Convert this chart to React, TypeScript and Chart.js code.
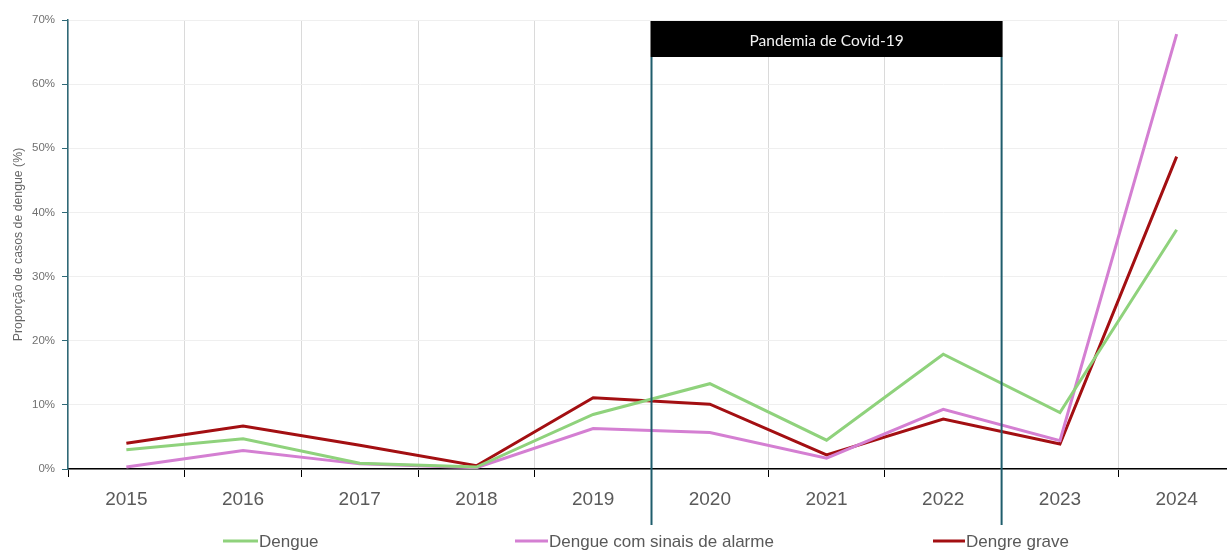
import React, { useEffect, useRef } from "react";
import { Chart, registerables } from "chart.js";

Chart.register(...registerables);

const years = ["2015", "2016", "2017", "2018", "2019", "2020", "2021", "2022", "2023", "2024"];
const dengue = [3.0, 4.7, 0.9, 0.3, 8.5, 13.3, 4.5, 17.9, 8.8, 37.3];
const alarme = [0.3, 2.9, 0.8, 0.2, 6.3, 5.7, 1.7, 9.3, 4.4, 67.8];
const grave = [4.0, 6.7, 3.7, 0.5, 11.1, 10.1, 2.2, 7.8, 3.9, 48.7];
const seriesLabels = ["Dengue", "Dengue com sinais de alarme", "Dengre grave"];
const seriesColors = ["#8fd27c", "#d47fd2", "#a30f12"];
const covidLabel = "Pandemia de Covid-19";
const covidStart = 4.5;
const covidEnd = 7.5;
const yTitle = "Proporção de casos de dengue (%)";

const legendLineStart = [223, 515, 933];
const legendLineEnd = [258, 548, 965];
const legendY = 541;

const overlayPlugin = {
  id: "overlay",
  afterDatasetsDraw(chart: any) {
    const { ctx, scales } = chart;
    const x = scales.x;
    const x1 = x.getPixelForValue(covidStart);
    const x2 = x.getPixelForValue(covidEnd);
    ctx.save();
    ctx.fillStyle = "#000";
    ctx.fillRect(x1 - 1, 21, x2 - x1 + 2, 36);
    ctx.fillStyle = "#f2f2f2";
    ctx.font = "15.5px Lato, 'Liberation Sans', sans-serif";
    ctx.textAlign = "center";
    ctx.textBaseline = "middle";
    ctx.fillText(covidLabel, (x1 + x2) / 2, 41);
    ctx.strokeStyle = "#1f5d6c";
    ctx.lineWidth = 2;
    [x1, x2].forEach((px) => {
      ctx.beginPath();
      ctx.moveTo(px, 57);
      ctx.lineTo(px, 525);
      ctx.stroke();
    });
    // legend
    ctx.font = "17px 'Liberation Sans', Arial, sans-serif";
    ctx.textAlign = "left";
    ctx.textBaseline = "middle";
    seriesLabels.forEach((lab, i) => {
      ctx.strokeStyle = seriesColors[i];
      ctx.lineWidth = 3;
      ctx.beginPath();
      ctx.moveTo(legendLineStart[i], legendY);
      ctx.lineTo(legendLineEnd[i], legendY);
      ctx.stroke();
      ctx.fillStyle = "#595959";
      ctx.fillText(lab, legendLineEnd[i] + 1, legendY + 1);
    });
    ctx.restore();
  },
};

export default function App() {
  const ref = useRef<HTMLCanvasElement>(null);
  useEffect(() => {
    if (!ref.current) return;
    const datasets = [dengue, alarme, grave].map((d, i) => ({
      label: seriesLabels[i],
      data: d,
      borderColor: seriesColors[i],
      backgroundColor: seriesColors[i],
      borderWidth: 3,
      pointRadius: 0,
      tension: 0,
      fill: false,
    }));
    const chart = new Chart(ref.current, {
      type: "line",
      data: { labels: years, datasets },
      plugins: [overlayPlugin],
      options: {
        animation: false,
        responsive: false,
        devicePixelRatio: 1,
        layout: { padding: { top: 20, right: 5, bottom: 0, left: 0 } },
        plugins: {
          legend: { display: false },
          tooltip: { enabled: false },
        },
        scales: {
          x: {
            offset: true,
            grid: {
              offset: true,
              color: "#dadada",
              tickColor: "#000",
              tickLength: 8,
              lineWidth: 1,
            },
            border: { color: "#000", width: 1.5 },
            ticks: {
              color: "#5a5a5a",
              font: { size: 19, family: "'Liberation Sans', Arial, sans-serif" },
              padding: 11,
              maxRotation: 0,
            },
            afterFit(scale: any) {
              scale.height = 83;
            },
          },
          y: {
            min: 0,
            max: 70,
            grid: {
              color: "#efefef",
              tickColor: "#2f6a78",
              tickLength: 6,
            },
            border: { color: "#2f6a78", width: 1.5 },
            ticks: {
              stepSize: 10,
              color: "#707070",
              font: { size: 11.5, family: "'Liberation Sans', Arial, sans-serif" },
              padding: 7,
              callback: (v: any) => v + "%",
            },
            title: {
              display: true,
              text: yTitle,
              color: "#666",
              font: { size: 12.3, family: "'Liberation Sans', Arial, sans-serif" },
              padding: { top: 11, bottom: 0 },
            },
            afterFit(scale: any) {
              scale.width = 68;
            },
          },
        },
      },
    });
    return () => chart.destroy();
  }, []);
  return (
    <div
      style={{
        position: "absolute",
        left: 0,
        top: 0,
        width: 1227,
        height: 552,
        overflow: "hidden",
        background: "#fff",
      }}
    >
      <canvas ref={ref} width={1240} height={552} style={{ display: "block", width: 1240, height: 552 }} />
    </div>
  );
}
